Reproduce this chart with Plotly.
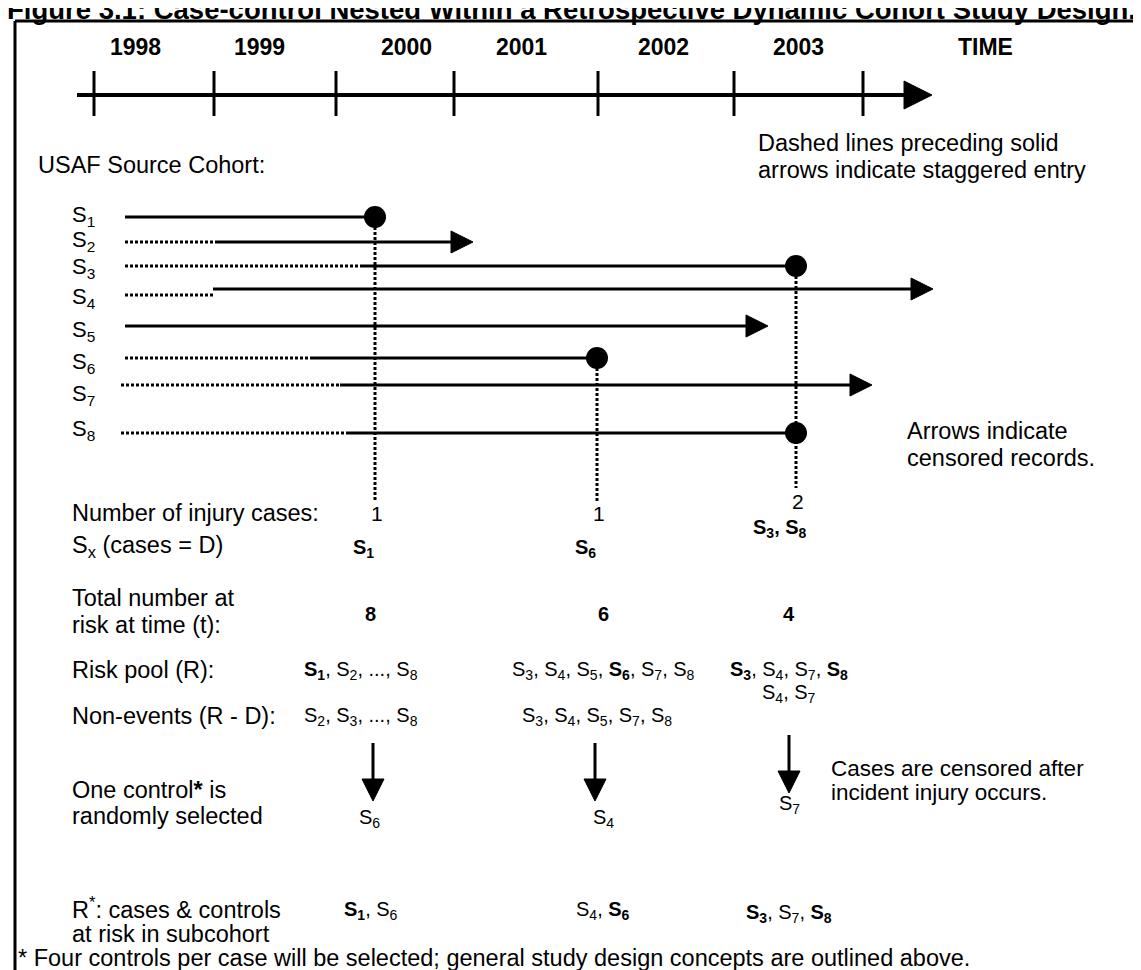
"""Case-control nested within a retrospective dynamic cohort - diagram."""

import plotly.graph_objects as go

W, H = 1141, 970
FONT = "Arial, 'Liberation Sans', sans-serif"
BODY = 23.5

TITLE = "Figure 3.1: Case-control Nested Within a Retrospective Dynamic Cohort Study Design."

# calendar axis
years = ["1998", "1999", "2000", "2001", "2002", "2003"]
year_label_x = [127, 251, 398, 513, 655, 790]
year_tick_x = [86, 206, 328, 446, 590, 726, 855]

# source cohort: time of entry into records, start of follow-up, exit
subjects = ["1", "2", "3", "4", "5", "6", "7", "8"]
record_start = [117, 117, 117, 117, 117, 117, 113, 113]
followup_start = [117, 207, 354, 205, 117, 302, 332, 338]
exit_time = [367, 465, 788, 925, 760, 589, 864, 788]
outcome = ["case", "censored", "case", "censored", "censored", "case", "censored", "case"]

# risk sets at each case time
case_time = [367, 589, 788]
n_cases = ["1", "1", "2"]
case_ids = ["<b>S<sub>1</sub></b>", "<b>S<sub>6</sub></b>", "<b>S<sub>3</sub>, S<sub>8</sub></b>"]
n_at_risk = ["8", "6", "4"]
risk_pool = [
    "<b>S<sub>1</sub></b>, S<sub>2</sub>, ..., S<sub>8</sub>",
    "S<sub>3</sub>, S<sub>4</sub>, S<sub>5</sub>, <b>S<sub>6</sub></b>, S<sub>7</sub>, S<sub>8</sub>",
    "<b>S<sub>3</sub></b>, S<sub>4</sub>, S<sub>7</sub>, <b>S<sub>8</sub></b>",
]
non_events = [
    "S<sub>2</sub>, S<sub>3</sub>, ..., S<sub>8</sub>",
    "S<sub>3</sub>, S<sub>4</sub>, S<sub>5</sub>, S<sub>7</sub>, S<sub>8</sub>",
    "S<sub>4</sub>, S<sub>7</sub>",
]
control = ["S<sub>6</sub>", "S<sub>4</sub>", "S<sub>7</sub>"]
subcohort = [
    "<b>S<sub>1</sub></b>, S<sub>6</sub>",
    "S<sub>4</sub>, <b>S<sub>6</sub></b>",
    "<b>S<sub>3</sub></b>, S<sub>7</sub>, <b>S<sub>8</sub></b>",
]

# page layout (px)
row_y = [209, 234, 258, 281, 318, 350, 377, 425]
label_y = [208, 233, 260, 290, 323, 355, 387, 422]
col_shift = [-10, 6, -7]   # summary text offset from each case time
DOT = "3px,2px"

fig = go.Figure()
notes = []


def text(x, y, s, size=BODY, anchor="left", bold=False):
    if bold:
        s = f"<b>{s}</b>"
    notes.append(dict(x=x, y=y, text=s, showarrow=False, xanchor=anchor, yanchor="middle",
                      font=dict(family=FONT, size=size, color="black")))


def line(xs, ys, width=3, dash="solid"):
    fig.add_trace(go.Scatter(x=xs, y=ys, mode="lines", hoverinfo="skip",
                             line=dict(color="black", width=width, dash=dash)))


def head(x, y, direction="right", length=22, half=11):
    if direction == "right":
        xs, ys = [x, x - length, x - length, x], [y, y - half, y + half, y]
    else:
        xs, ys = [x, x - half, x + half, x], [y, y - length, y - length, y]
    fig.add_trace(go.Scatter(x=xs, y=ys, mode="lines", fill="toself", fillcolor="black",
                             hoverinfo="skip", line=dict(color="black", width=1)))


# frame
line([7, 7], [13, 962], width=3)
line([7, W], [13, 13], width=3)
notes.append(dict(x=0, y=1, xref="x", yref="y", text=f"<b>{TITLE}</b>", showarrow=False,
                  xanchor="left", yanchor="middle", xshift=-3,
                  font=dict(family=FONT, size=27.5, color="black")))

# time axis
for yr, x in zip(years, year_label_x):
    text(x, 39, yr, size=23, anchor="center", bold=True)
text(977, 39, "TIME", size=23, anchor="center", bold=True)
line([69, 900], [87, 87], width=4)
head(924, 87, length=28, half=14)
for x in year_tick_x:
    line([x, x], [63, 108], width=3)

text(748, 135, "Dashed lines preceding solid")
text(748, 162, "arrows indicate staggered entry")
text(28, 157, "USAF Source Cohort:")

# vertical guides from case events
line([case_time[0]] * 2, [row_y[0], 494], dash=DOT)
line([case_time[1]] * 2, [row_y[5], 494], dash=DOT)
line([case_time[2]] * 2, [row_y[2], 480], dash=DOT)

# subject histories
for i, s in enumerate(subjects):
    y = row_y[i]
    text(62, label_y[i], f"S<sub>{s}</sub>", size=22)
    if followup_start[i] > record_start[i]:
        dy = 6 if s == "4" else 0
        line([record_start[i], followup_start[i]], [y + dy, y + dy], dash=DOT)
    if outcome[i] == "censored":
        line([followup_start[i], exit_time[i] - 20], [y, y], width=3)
        head(exit_time[i], y)
    else:
        line([followup_start[i], exit_time[i]], [y, y], width=3)

case_rows = [i for i, o in enumerate(outcome) if o == "case"]
fig.add_trace(go.Scatter(x=[exit_time[i] for i in case_rows], y=[row_y[i] for i in case_rows],
                         mode="markers", hoverinfo="skip",
                         marker=dict(size=22, color="black", symbol="circle")))

text(897, 423, "Arrows indicate")
text(897, 450, "censored records.")

# risk-set summary rows
text(62, 505, "Number of injury cases:")
text(62, 538, "S<sub>x</sub> (cases = D)")
text(62, 590, "Total number at")
text(62, 617, "risk at time (t):")
text(62, 662, "Risk pool (R):")
text(62, 708, "Non-events (R - D):")
text(62, 782, "One control<b>*</b> is")
text(62, 808, "randomly selected")
text(62, 900, "R<sup>*</sup>: cases &amp; controls")
text(62, 926, "at risk in subcohort")
text(8, 950, "* Four controls per case will be selected; general study design concepts are outlined above.")

for j, t in enumerate(case_time):
    last = j == 2
    c = t + col_shift[j]
    text(t + 2, 493 if last else 505, n_cases[j], size=21, anchor="center")
    text(t - 16 if last else t - 12, 520 if last else 540, case_ids[j], size=20, anchor="center")
    text(c + (0 if j else 5), 606, n_at_risk[j], size=20, anchor="center", bold=True)
    text(c - (4 if j == 0 else 0), 662, risk_pool[j], size=20, anchor="center")
    text(c + (-6 if j == 1 else 0) - (4 if j == 0 else 0), 685 if last else 708, non_events[j],
         size=20, anchor="center")
    arrow_x = t - 2 if j < 2 else c
    top = 727 if last else 735
    line([arrow_x, arrow_x], [top, top + 40], width=3)
    head(arrow_x, top + 58, direction="down", length=22, half=11)
    text(c + (4 if j == 0 else 0), 796 if last else 810, control[j], size=20, anchor="center")
    text(c + (6 if j == 0 else 0), 905 if last else 902, subcohort[j], size=20, anchor="center")

text(821, 760, "Cases are censored after", size=22.5)
text(821, 784, "incident injury occurs.", size=22.5)

fig.update_layout(
    width=W, height=H, margin=dict(l=0, r=0, t=0, b=0),
    paper_bgcolor="white", plot_bgcolor="white", showlegend=False,
    xaxis=dict(range=[0, W], visible=False, fixedrange=True),
    yaxis=dict(range=[H, 0], visible=False, fixedrange=True),
    annotations=notes,
)

fig.write_html("out.html")
